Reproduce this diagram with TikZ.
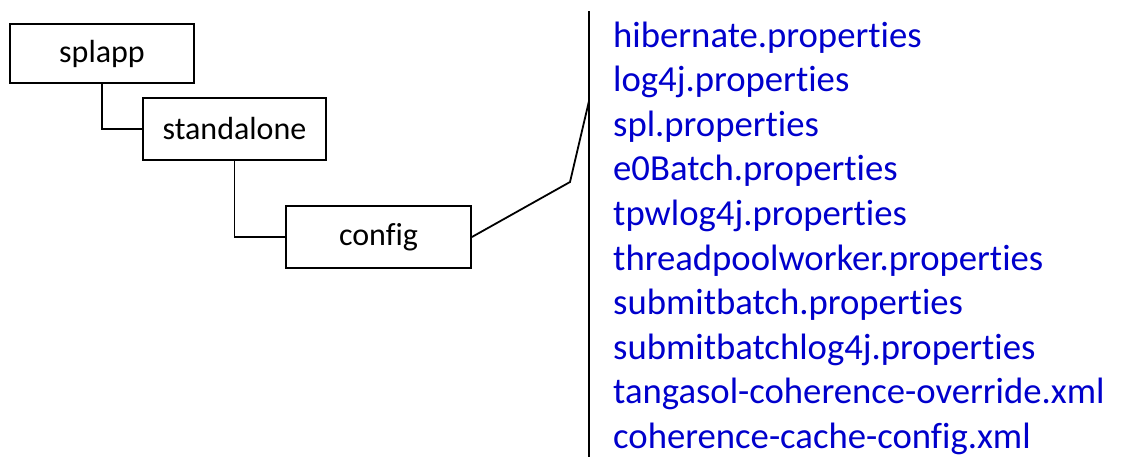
\documentclass[tikz,border=0pt]{standalone}
\usepackage{fontspec}
\setmainfont{Carlito}[Ligatures={NoCommon}]
\definecolor{fileblue}{RGB}{0,0,204}
\begin{document}
\begin{tikzpicture}[x=1pt,y=-1pt,
  dirbox/.style={draw=black,line width=1.8pt,inner sep=0pt,font=\fontsize{32}{38}\selectfont},
  conn/.style={draw=black,line width=1.8pt},
  filename/.style={anchor=base west,inner sep=0pt,text=fileblue,font=\fontsize{36.7}{44}\selectfont}]
\useasboundingbox (0,0) rectangle (1129,456);
\node[dirbox,minimum width=184pt,minimum height=59pt] (splapp) at (102,53.5) {splapp};
\node[dirbox,minimum width=183pt,minimum height=62pt] (standalone) at (234.5,129) {standalone};
\node[dirbox,minimum width=185pt,minimum height=62pt] (config) at (378.5,237) {config};
\draw[conn] (splapp.south) |- (standalone.west);
\draw[conn] (standalone.south) |- (config.west);
\coordinate (top) at (589,11);
\coordinate (bot) at (589,460);
\coordinate (bend) at (570,182);
\coordinate (join) at (589,101);
\draw[conn] (top) -- (bot);
\draw[conn] (config.east) -- (bend) -- (join);
\foreach \t [count=\i from 0] in {hibernate.properties,log4j.properties,spl.properties,e0Batch.properties,tpwlog4j.properties,threadpoolworker.properties,submitbatch.properties,submitbatchlog4j.properties,tangasol-coherence-override.xml,coherence-cache-config.xml}
  \node[filename] (f\i) at (613,47+\i*44.6) {\t};
\end{tikzpicture}
\end{document}
